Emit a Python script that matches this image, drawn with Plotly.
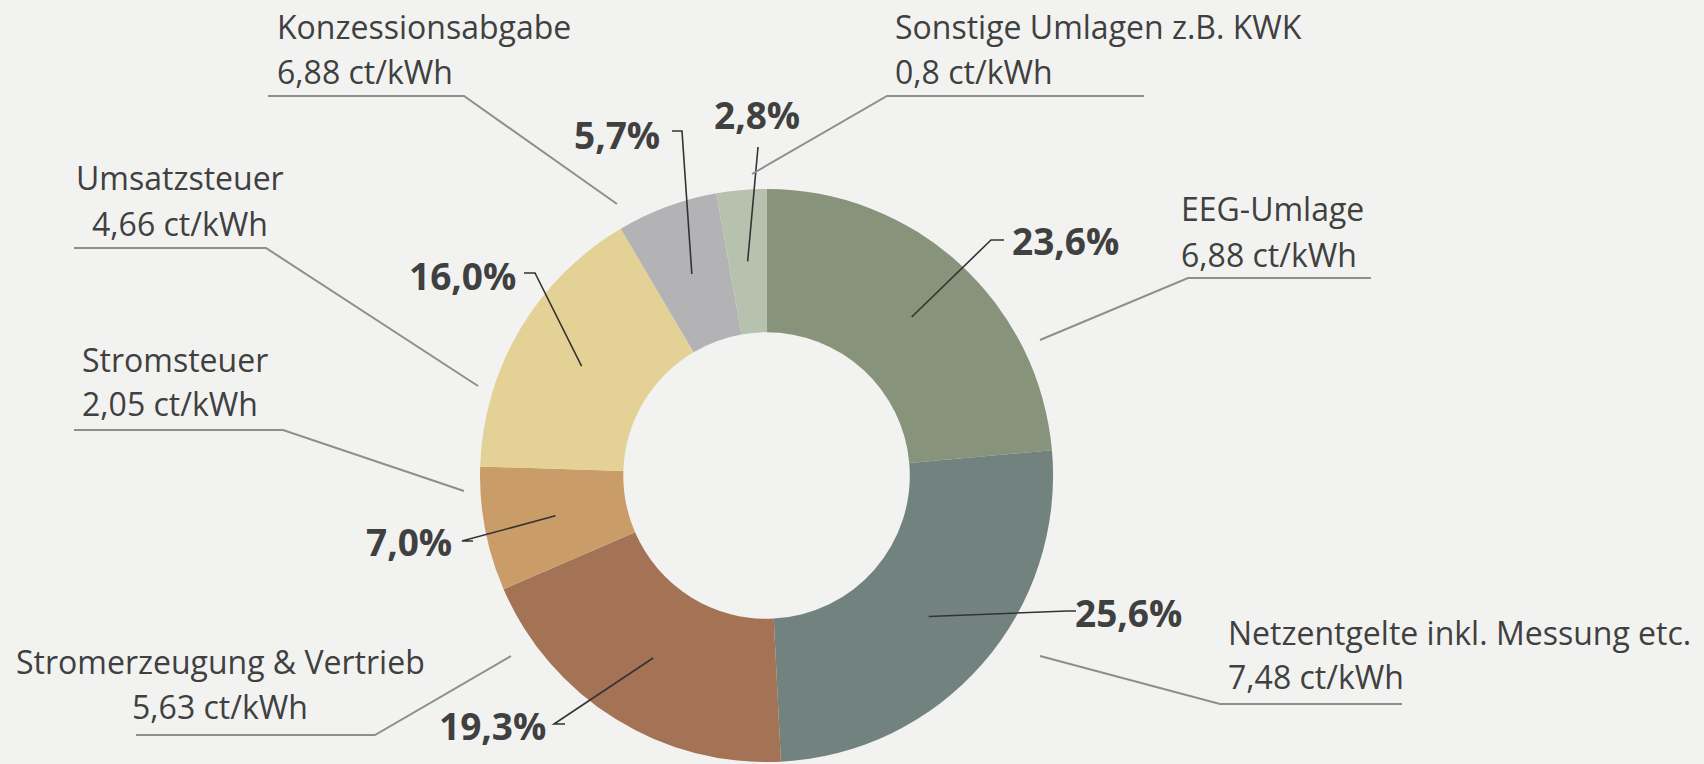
import math
import plotly.graph_objects as go

# ---------------- data ----------------
categories = ["EEG-Umlage", "Netzentgelte inkl. Messung etc.", "Stromerzeugung & Vertrieb",
              "Stromsteuer", "Umsatzsteuer", "Konzessionsabgabe", "Sonstige Umlagen z.B. KWK"]
shares = [23.6, 25.6, 19.3, 7.0, 16.0, 5.7, 2.8]
price_ct = ["6,88", "7,48", "5,63", "2,05", "4,66", "6,88", "0,8"]
colors = ["#87937A", "#72827F", "#A47254", "#C99C68", "#E3D196", "#B3B3B5", "#B6C2AE"]

# ---------------- layout settings ----------------
W, H = 1704, 764
BG = "#F2F3F1"
TXT = "#404040"
FONT = "Open Sans, Liberation Sans, sans-serif"

dom_x = [0.2817, 0.6180]
dom_y = [0.0026, 0.7527]
hole = 0.5

def px(x, y):
    return x / W, 1 - y / H

# category label placement (pixels)
cat_layout = [
    dict(x=1179, anchor="left", y1=208, y2=254, uy=278, ux=(1188, 1371), start=1188, end=(1040, 340)),
    dict(x=1226, anchor="left", y1=632, y2=676, uy=704, ux=(1220, 1402), start=1220, end=(1040, 656)),
    dict(x=220, anchor="center", y1=661, y2=706, uy=735, ux=(136, 375), start=375, end=(511, 656)),
    dict(x=80, anchor="left", y1=359, y2=404, uy=430, ux=(74, 283), start=283, end=(464, 491)),
    dict(x=180, anchor="center", y1=177, y2=223, uy=248, ux=(74, 266), start=266, end=(478, 386)),
    dict(x=275, anchor="left", y1=26, y2=72, uy=96, ux=(268, 464), start=464, end=(617, 204)),
    dict(x=893, anchor="left", y1=26, y2=72, uy=96, ux=(887, 1144), start=887, end=(752, 174)),
]
# percentage label placement (pixels)
pct_layout = [
    dict(c=(1065, 241), elbow=(991, 240), tick=(1004, 240)),
    dict(c=(1128, 612), elbow=(1067, 611), tick=(1076, 611)),
    dict(c=(492, 725), elbow=(554, 724), tick=(565, 724)),
    dict(c=(409, 541), elbow=(462, 541), tick=(473, 541)),
    dict(c=(462, 275), elbow=(535, 273), tick=(524, 273)),
    dict(c=(617, 134), elbow=(682, 131), tick=(672, 131)),
    dict(c=(757, 114), elbow=(758, 147), tick=None),
]

fig = go.Figure(go.Pie(
    labels=categories, values=shares, sort=False, direction="clockwise", rotation=0,
    hole=hole, marker=dict(colors=colors, line=dict(width=0)),
    textinfo="none", hoverinfo="label+percent", showlegend=False,
    domain=dict(x=dom_x, y=dom_y),
))

# pie geometry in pixels
cx = (dom_x[0] + dom_x[1]) / 2 * W
cy = H - (dom_y[0] + dom_y[1]) / 2 * H
R = min((dom_x[1] - dom_x[0]) * W, (dom_y[1] - dom_y[0]) * H) / 2
r_mid = R * (1 + hole) / 2

annotations = []
shapes = []
total = sum(shares)
cum = 0.0
for i, v in enumerate(shares):
    mid = (cum + v / 2) / total * 360.0
    cum += v
    ax = cx + r_mid * math.sin(math.radians(mid))
    ay = cy - r_mid * math.cos(math.radians(mid))

    # percentage label
    p = pct_layout[i]
    lx, ly = px(*p["c"])
    annotations.append(dict(
        x=lx, y=ly, xref="paper", yref="paper", showarrow=False,
        text="<b>" + f"{v:.1f}".replace(".", ",") + "%</b>",
        font=dict(family=FONT, size=37, color=TXT), xanchor="center", yanchor="middle"))
    pts = [(ax, ay), p["elbow"]]
    if p["tick"] is not None:
        pts.append(p["tick"])
    path = "M " + " L ".join(f"{px(x, y)[0]:.5f},{px(x, y)[1]:.5f}" for x, y in pts)
    shapes.append(dict(type="path", path=path, xref="paper", yref="paper",
                       line=dict(color="#333333", width=1.6)))

    # category label
    c = cat_layout[i]
    for yy, txt in ((c["y1"], categories[i]), (c["y2"], price_ct[i] + " ct/kWh")):
        tx, ty = px(c["x"], yy)
        annotations.append(dict(
            x=tx, y=ty, xref="paper", yref="paper", showarrow=False, text=txt,
            font=dict(family=FONT, size=32, color=TXT), xanchor=c["anchor"], yanchor="middle"))
    a = c["ux"]
    other = a[0] if c["start"] == a[1] else a[1]
    pts = [(other, c["uy"]), (c["start"], c["uy"]), c["end"]]
    path = "M " + " L ".join(f"{px(x, y)[0]:.5f},{px(x, y)[1]:.5f}" for x, y in pts)
    shapes.append(dict(type="path", path=path, xref="paper", yref="paper",
                       line=dict(color="#8E8E8E", width=2)))

fig.update_layout(
    width=W, height=H, margin=dict(l=0, r=0, t=0, b=0),
    paper_bgcolor=BG, plot_bgcolor=BG,
    annotations=annotations, shapes=shapes,
)

fig.write_html(
    "out.html",
    config={"displayModeBar": False},
    post_script="document.body.style.margin='0';document.body.style.overflow='hidden';"
                "document.documentElement.style.overflow='hidden';"
                "document.body.style.background='" + BG + "';",
)
